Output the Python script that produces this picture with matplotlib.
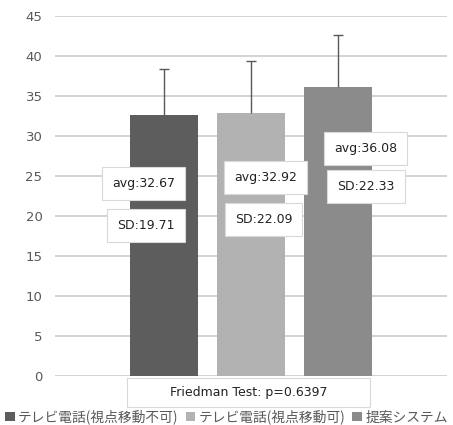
import matplotlib
matplotlib.use("Agg")
import matplotlib.pyplot as plt
from matplotlib.patches import Rectangle, Patch

plt.rcParams['font.family'] = ['DejaVu Sans', 'Noto Sans CJK JP']

# data
conditions = ["テレビ電話(視点移動不可)", "テレビ電話(視点移動可)", "提案システム"]
means = [32.67, 32.92, 36.08]
sds = [19.71, 22.09, 22.33]
errs = [5.7, 6.4, 6.5]   # error bar lengths as drawn
p_value = 0.6397
colors = ['#5d5d5d', '#b2b2b2', '#8b8b8b']

# label box centres (axes fraction)
avg_pos = [(0.227, 0.535), (0.537, 0.551), (0.793, 0.632)]
sd_pos = [(0.232, 0.419), (0.532, 0.436), (0.793, 0.525)]

fig = plt.figure(figsize=(4.53, 4.25), dpi=100)
ax = fig.add_axes([0.1214, 0.1153, 0.8654, 0.8471])

width = 0.1735
offsets = [-0.222, 0.0, 0.222]
for i in range(3):
    ax.bar(offsets[i], means[i], width=width, color=colors[i], zorder=3,
           label=conditions[i])
    # upper error bar only
    ax.vlines(offsets[i], means[i], means[i] + errs[i], color='#595959',
              linewidth=1, zorder=4)
    ax.plot(offsets[i], means[i] + errs[i], marker='_', markersize=7,
            markeredgewidth=1, color='#595959', zorder=4)

ax.set_xlim(-0.5, 0.5)
ax.set_ylim(0, 45)
ax.set_yticks(range(0, 46, 5))
ax.set_xticks([])
ax.yaxis.grid(True, color='#d0d0d0', linewidth=1.3, zorder=0)
ax.set_axisbelow(True)
for s in ax.spines.values():
    s.set_visible(False)
ax.tick_params(axis='y', length=0, labelsize=9.5, labelcolor='#595959', pad=9)

box = dict(boxstyle='square,pad=0.8', facecolor='white', edgecolor='#d9d9d9', linewidth=0.8)
for i in range(3):
    ax.text(avg_pos[i][0], avg_pos[i][1], f"avg:{means[i]:.2f}", transform=ax.transAxes,
            ha='center', va='center', fontsize=9, color='#222222', bbox=box, zorder=5)
    ax.text(sd_pos[i][0], sd_pos[i][1], f"SD:{sds[i]:.2f}", transform=ax.transAxes,
            ha='center', va='center', fontsize=9, color='#222222', bbox=box, zorder=5)

# Friedman test box
ax.add_patch(Rectangle((0.184, -0.086), 0.620, 0.080, transform=ax.transAxes,
                       facecolor='white', edgecolor='#d9d9d9', linewidth=0.8,
                       clip_on=False, zorder=5))
ax.text(0.494, -0.046, f"Friedman Test: p={p_value}", transform=ax.transAxes,
        ha='center', va='center', fontsize=9, color='#222222', zorder=6)

handles = [Patch(facecolor=c) for c in colors]
fig.legend(handles, conditions, loc='center', bbox_to_anchor=(0.5, 0.019), ncol=3,
           frameon=False, handlelength=0.7, handleheight=0.7,
           handletextpad=0.25, columnspacing=0.5, borderaxespad=0,
           prop={'family': ['Noto Sans CJK JP', 'DejaVu Sans'], 'size': 9.9},
           labelcolor='#595959')

fig.savefig("out.png", dpi=100)
